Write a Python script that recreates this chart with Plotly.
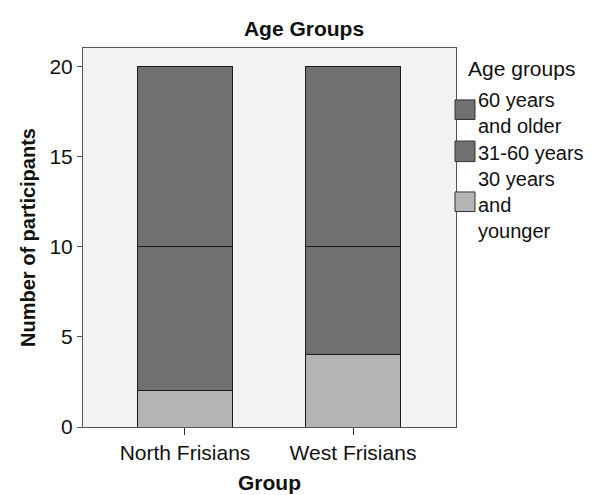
import plotly.graph_objects as go

groups = ["North Frisians", "West Frisians"]
age_labels = ["30 years and younger", "31-60 years", "60 years and older"]
young = [2, 4]
middle = [8, 6]
older = [10, 10]
series = [young, middle, older]
colors = ["#b4b4b4", "#707070", "#707070"]
legend_texts = ["60 years<br>and older", "31-60 years", "30 years<br>and<br>younger"]

FONT = "Liberation Sans, Arial, sans-serif"
W, H = 594, 495
L, R, T, B = 75, 146, 40, 68
pw, ph = W - L - R, H - T - B

def px(x):
    return (x - L) / pw

def py(y):
    return (H - B - y) / ph

fig = go.Figure()
for name, vals, c in zip(age_labels, series, colors):
    fig.add_trace(go.Bar(
        x=groups, y=vals, name=name, width=0.56,
        marker=dict(color=c, line=dict(color="#1a1a1a", width=1)),
        showlegend=False,
    ))

fig.update_layout(
    width=W, height=H, barmode="stack",
    margin=dict(l=L, r=R, t=T, b=B),
    paper_bgcolor="white", plot_bgcolor="#f1f2f1",
    font=dict(family=FONT, size=21, color="#111"),
    title=dict(text="<b>Age Groups</b>", x=296 / W, xanchor="center",
               y=1 - 21 / H, yanchor="middle", font=dict(size=21)),
)
fig.update_xaxes(
    range=[-0.607, 1.613], showline=True, linecolor="#555", linewidth=1, mirror=True,
    ticks="outside", ticklen=7, tickcolor="#333", showgrid=False,
    title=dict(text="<b>Group</b>", font=dict(size=21), standoff=12),
    tickfont=dict(size=21),
)
fig.update_yaxes(
    range=[0, 21.03], showline=True, linecolor="#555", linewidth=1, mirror=True,
    ticks="outside", ticklen=5, tickcolor="#555", showgrid=False, zeroline=False,
    tickvals=[0, 5, 10, 15, 20], tickfont=dict(size=21),
    title=dict(text="<b>Number of participants</b>", font=dict(size=20), standoff=8),
)

# legend drawn manually (SPSS style)
ann = [dict(text="Age groups", x=px(458), y=py(61), xref="paper", yref="paper",
            xanchor="left", yanchor="middle", showarrow=False, font=dict(size=21))]
swatches = [(colors[2], 93, 113, 106), (colors[1], 135, 156, 147), (colors[0], 187, 207, 200)]
for (c, y0, y1, ty), text in zip(swatches, legend_texts):
    fig.add_shape(type="rect", xref="paper", yref="paper",
                  x0=px(447), x1=px(467), y0=py(y1), y1=py(y0),
                  fillcolor=c, line=dict(color="#333", width=1))
    ann.append(dict(text=text, x=px(468), y=py(ty), xref="paper", yref="paper",
                    xanchor="left", yanchor="middle", align="left", showarrow=False,
                    font=dict(size=20)))
fig.update_layout(annotations=ann)

fig.write_html("out.html")
